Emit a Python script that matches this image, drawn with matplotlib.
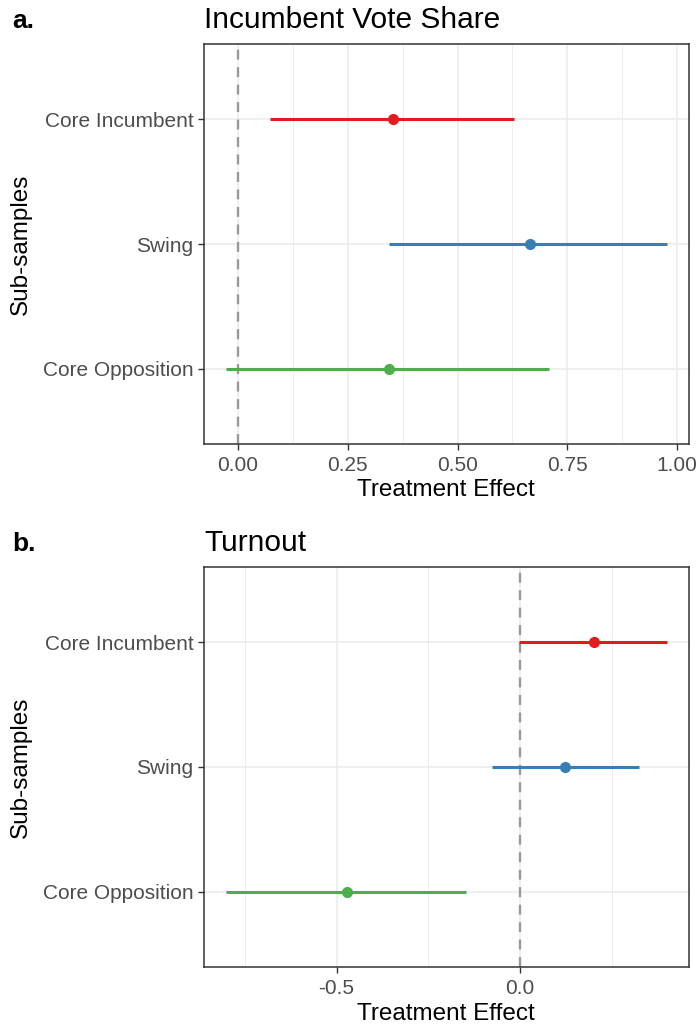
import numpy as np
import matplotlib
matplotlib.use("Agg")
import matplotlib.pyplot as plt

# sub-sample categories, top to bottom
categories = ["Core Incumbent", "Swing", "Core Opposition"]
colors = ["#E41A1C", "#377EB8", "#4DAF4A"]

# panel a: incumbent vote share
vote_est = [0.354, 0.664, 0.344]
vote_lo = [0.072, 0.344, -0.027]
vote_hi = [0.629, 0.976, 0.709]
vote_major = [0.0, 0.25, 0.50, 0.75, 1.00]
vote_minor = [0.125, 0.375, 0.625, 0.875]
vote_labels = ["0.00", "0.25", "0.50", "0.75", "1.00"]

# panel b: turnout
turn_est = [0.201, 0.123, -0.471]
turn_lo = [-0.004, -0.077, -0.801]
turn_hi = [0.399, 0.323, -0.148]
turn_major = [-0.5, 0.0]
turn_minor = [-0.75, -0.25, 0.25]
turn_labels = ["-0.5", "0.0"]

plt.rcParams["font.family"] = ["Liberation Sans", "DejaVu Sans"]


def coef_panel(ax, est, lo, hi, major, minor, labels, title, tag):
    ypos = np.arange(len(categories))[::-1]
    ax.set_axisbelow(True)
    ax.axvline(0, color="#999999", linestyle=(0, (4.2, 3.2)), linewidth=1.7, zorder=2)
    for y, e, l, h, c in zip(ypos, est, lo, hi, colors):
        ax.hlines(y, l, h, color=c, linewidth=2.2, zorder=3)
        ax.plot(e, y, "o", color=c, markersize=7, zorder=4)

    ax.margins(x=0.05)
    ax.set_ylim(-0.6, len(categories) - 0.4)
    ax.set_yticks(ypos)
    ax.set_yticklabels(categories)
    ax.set_xticks(major)
    ax.set_xticklabels(labels)
    ax.set_xticks(minor, minor=True)

    ax.grid(True, which="major", color="#EBEBEB", linewidth=1.1)
    ax.grid(True, which="minor", axis="x", color="#EBEBEB", linewidth=0.6)
    ax.tick_params(which="major", length=4, width=1.0, color="#333333",
                   labelcolor="#4D4D4D", labelsize=15)
    ax.tick_params(axis="x", which="major", pad=5)
    ax.tick_params(axis="y", which="major", pad=3.5)
    ax.tick_params(which="minor", length=0)
    for s in ax.spines.values():
        s.set_color("#333333")
        s.set_linewidth(1.1)

    ax.set_xlabel("Treatment Effect", fontsize=17.5, labelpad=3)
    ax.set_ylabel("Sub-samples", fontsize=17.5, labelpad=8)
    ax.text(0.0, 1.041, title, transform=ax.transAxes, fontsize=21.5,
            va="baseline", ha="left")
    ax.text(-0.396, 1.041, tag, transform=ax.transAxes, fontsize=19,
            fontweight="bold", va="baseline", ha="left")


fig = plt.figure(figsize=(6.97, 10.30), dpi=100)
ax_a = fig.add_axes([0.2927, 0.5694, 0.6954, 0.3874])
ax_b = fig.add_axes([0.2927, 0.0612, 0.6954, 0.3883])

coef_panel(ax_a, vote_est, vote_lo, vote_hi, vote_major, vote_minor, vote_labels,
           "Incumbent Vote Share", "a.")
coef_panel(ax_b, turn_est, turn_lo, turn_hi, turn_major, turn_minor, turn_labels,
           "Turnout", "b.")

fig.savefig("out.png", dpi=100)
